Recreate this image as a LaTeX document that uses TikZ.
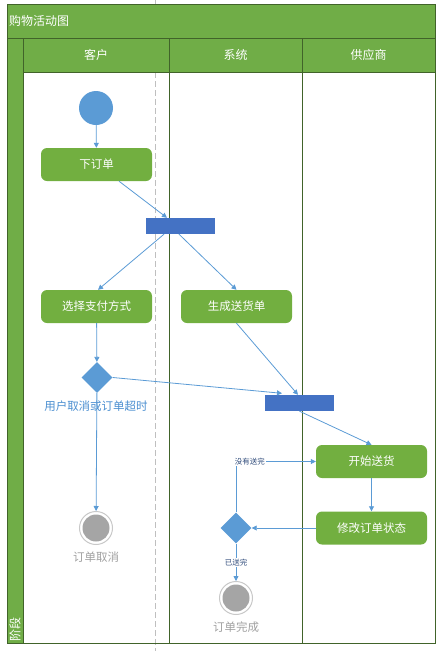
\documentclass[tikz,border=0pt]{standalone}
\usepackage{fontspec}
\setmainfont{Noto Sans CJK SC}
\usetikzlibrary{shapes.geometric,arrows.meta,calc}
\definecolor{lanegreen}{HTML}{70AD47}
\definecolor{laneborder}{HTML}{41632A}
\definecolor{nodegreen}{HTML}{72AF40}
\definecolor{flowblue}{HTML}{5B9BD5}
\definecolor{barblue}{HTML}{4472C4}
\definecolor{endgray}{HTML}{A5A5A5}
\definecolor{ringgray}{HTML}{C8C8C8}
\definecolor{labelgray}{HTML}{A0A0A0}
\definecolor{labelblue}{HTML}{2E4A7A}
\definecolor{condblue}{HTML}{4A8ED0}
\definecolor{dashgray}{HTML}{BFBFBF}
\begin{document}
\begin{tikzpicture}[x=1pt,y=-1pt,
  act/.style={rectangle,rounded corners=6pt,fill=nodegreen,text=white,minimum width=111pt,minimum height=33pt,inner sep=0pt,font=\fontsize{11.5}{12}\selectfont},
  forkbar/.style={rectangle,fill=barblue,minimum width=69pt,minimum height=16pt,inner sep=0pt},
  decision/.style={diamond,fill=flowblue,minimum width=31pt,minimum height=31pt,inner sep=0pt},
  startdot/.style={circle,fill=flowblue,minimum size=34pt,inner sep=0pt},
  enddot/.style={circle,draw=ringgray,line width=1pt,fill=white,minimum size=33pt,inner sep=0pt,
    path picture={\fill[endgray] (path picture bounding box.center) circle (13.5pt);}},
  flow/.style={draw=flowblue,line width=0.8pt,-{Triangle[length=5pt,width=5pt]}},
  headtext/.style={text=white,font=\fontsize{12}{13}\selectfont,inner sep=0pt},
  graytext/.style={text=labelgray,font=\fontsize{11.5}{12}\selectfont,inner sep=0pt},
  smalllabel/.style={text=labelblue,fill=white,font=\fontsize{7.5}{8}\selectfont,inner sep=1pt},
  laneline/.style={draw=laneborder,line width=0.9pt}
]
\useasboundingbox (0,0) rectangle (447,651);
% dashed guide
\draw[dashgray,line width=1pt,dash pattern=on 6pt off 3pt] (155,0) -- (155,651);
% swimlane frame
\fill[lanegreen] (7,4) rectangle (435,72);
\fill[lanegreen] (7,72) rectangle (23,643);
\draw[laneline] (7,4) rectangle (435,643);
\draw[laneline] (7,38) -- (435,38);
\draw[laneline] (23,38) -- (23,643);
\draw[laneline] (23,72) -- (435,72);
\draw[laneline] (169,38) -- (169,643);
\draw[laneline] (302,38) -- (302,643);
\node[headtext,anchor=west] (title) at (9,21) {购物活动图};
\node[headtext] (h1) at (96,55) {客户};
\node[headtext] (h2) at (235.5,55) {系统};
\node[headtext] (h3) at (368.5,55) {供应商};
\node[headtext,rotate=90] (stage) at (15,629) {阶段};
% nodes
\node[startdot] (start) at (96,108) {};
\node[act] (order) at (96.5,164.5) {下订单};
\node[forkbar] (bar1) at (180.5,226) {};
\node[act] (pay) at (96.5,306.5) {选择支付方式};
\node[act] (ship) at (236.5,306.5) {生成送货单};
\node[decision] (dec1) at (97,377.5) {};
\node[text=condblue,font=\fontsize{11.5}{12}\selectfont,inner sep=0pt] (cond) at (96,406) {用户取消或订单超时};
\node[forkbar] (bar2) at (299.5,403) {};
\node[act] (deliver) at (371.5,461.5) {开始送货};
\node[act] (modify) at (371.5,528) {修改订单状态};
\node[decision] (dec2) at (236,528) {};
\node[enddot] (cancel) at (96,528) {};
\node[graytext] (canceltext) at (96,557) {订单取消};
\node[enddot] (done) at (236,598) {};
\node[graytext] (donetext) at (236,627) {订单完成};
% connectors
\draw[flow] (start) -- (order);
\draw[flow] ($(order.south)+(22.5,0)$) -- ($(bar1.north)+(-13.5,0)$);
\draw[flow] ($(bar1.south)+(-16.5,0)$) -- ($(pay.north)+(1.5,0)$);
\draw[flow] ($(bar1.south)+(-1.5,0)$) -- (ship.north);
\draw[flow] (pay) -- (dec1);
\draw[flow] (dec1.east) -- ($(bar2.north)+(-17.5,-1.5)$);
\draw[flow] (ship.south) -- ($(bar2.north)+(-1.5,0)$);
\draw[flow] (bar2.south) -- (deliver.north);
\draw[flow] (deliver) -- (modify);
\draw[flow] (modify) -- (dec2);
\draw[flow] (dec2.north) |- node[pos=0.5,smalllabel,anchor=west,xshift=-2.5pt] {没有送完} (deliver.west);
\draw[flow] (dec2) -- node[smalllabel] {已送完} (done);
\draw[flow] (dec1) -- (cancel);
\end{tikzpicture}
\end{document}
